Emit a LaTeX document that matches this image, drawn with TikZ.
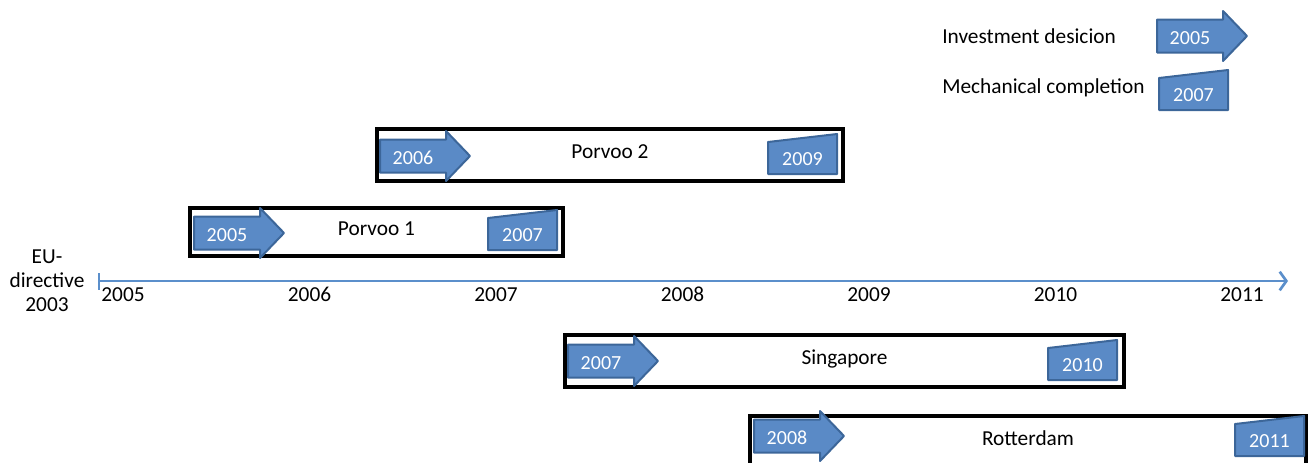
\documentclass[tikz,border=0pt]{standalone}
\usepackage{fontspec}
\setmainfont{Carlito}
\usetikzlibrary{arrows.meta}

\definecolor{shapefill}{HTML}{5A8AC6}
\definecolor{shapeline}{HTML}{3C6699}
\definecolor{axisblue}{HTML}{5B8FCB}

% decision arrow: #1 name, #2 left x, #3 centre y, #4 year
\newcommand\decisionarrow[4]{%
  \draw[markshape] (#2,#3-16.5) -- ++(66,0) -- ++(0,-8.5) -- (#2+90,#3)
    -- (#2+66,#3+25) -- ++(0,-8.5) -- (#2,#3+16.5) -- cycle;
  \node[yeartext] (#1) at (#2+33,#3+3) {#4};}

% completion marker: #1 name, #2 left x, #3 bottom y, #4 year
\newcommand\completionmark[4]{%
  \draw[markshape] (#2,#3) -- (#2,#3-32) -- (#2+69,#3-40) -- (#2+69,#3) -- cycle;
  \node[yeartext] (#1) at (#2+34.5,#3-14) {#4};}

\begin{document}
\begin{tikzpicture}[x=0.75pt,y=-0.75pt,
  font=\fontsize{16}{18}\selectfont,
  markshape/.style={fill=shapefill,draw=shapeline,line width=1.5pt,line join=round},
  yeartext/.style={text=white,inner sep=0pt,text height=1.6ex,text depth=0ex,font=\fontsize{15}{18}\selectfont},
  plain/.style={inner sep=0pt,text height=1.6ex,text depth=0.4ex},
  projbox/.style={draw=black,line width=3pt,inner sep=0pt,text height=1.6ex,text depth=0.4ex},
  axis/.style={draw=axisblue,line width=2pt}]
\useasboundingbox (0,0) rectangle (1310,462);

% legend
\node[plain,anchor=west] (legdec) at (942,40) {Investment desicion};
\node[plain,anchor=west] (legdone) at (942,90) {Mechanical completion};
\decisionarrow{legarrow}{1157}{36}{2005}
\completionmark{legmark}{1159}{110}{2007}

% project boxes
\node[projbox,minimum width={466*0.75pt},minimum height={52*0.75pt}] (p2) at (610,155) {Porvoo 2};
\node[projbox,minimum width={373*0.75pt},minimum height={48*0.75pt}] (p1) at (376.5,232) {Porvoo 1};
\node[projbox,minimum width={559*0.75pt},minimum height={52*0.75pt}] (sg) at (844.5,361) {Singapore};
\node[projbox,minimum width={556*0.75pt},minimum height={52*0.75pt}] (rt) at (1028,442) {Rotterdam};

\decisionarrow{p2dec}{380}{156}{2006}
\completionmark{p2done}{768}{174}{2009}
\decisionarrow{p1dec}{194}{233}{2005}
\completionmark{p1done}{488}{250}{2007}
\decisionarrow{sgdec}{568}{361}{2007}
\completionmark{sgdone}{1048}{380}{2010}
\decisionarrow{rtdec}{754}{436}{2008}
\completionmark{rtdone}{1235}{456}{2011}

% time axis
\coordinate (axstart) at (99,281);
\coordinate (axend) at (1288,281);
\coordinate (ticktop) at (99,273);
\coordinate (tickbot) at (99,290);
\draw[axis,-{Straight Barb[length=5pt,width=14pt,line width=2pt]}] (axstart) -- (axend);
\draw[axis] (ticktop) -- (tickbot);

\foreach \yr [count=\i from 0] in {2005,2006,2007,2008,2009,2010,2011}
  \node[plain] (y\yr) at (123+186.5*\i,298) {\yr};

\node[inner sep=0pt,align=center] (eu) at (47,281) {EU-\\directive\\2003};
\end{tikzpicture}
\end{document}
